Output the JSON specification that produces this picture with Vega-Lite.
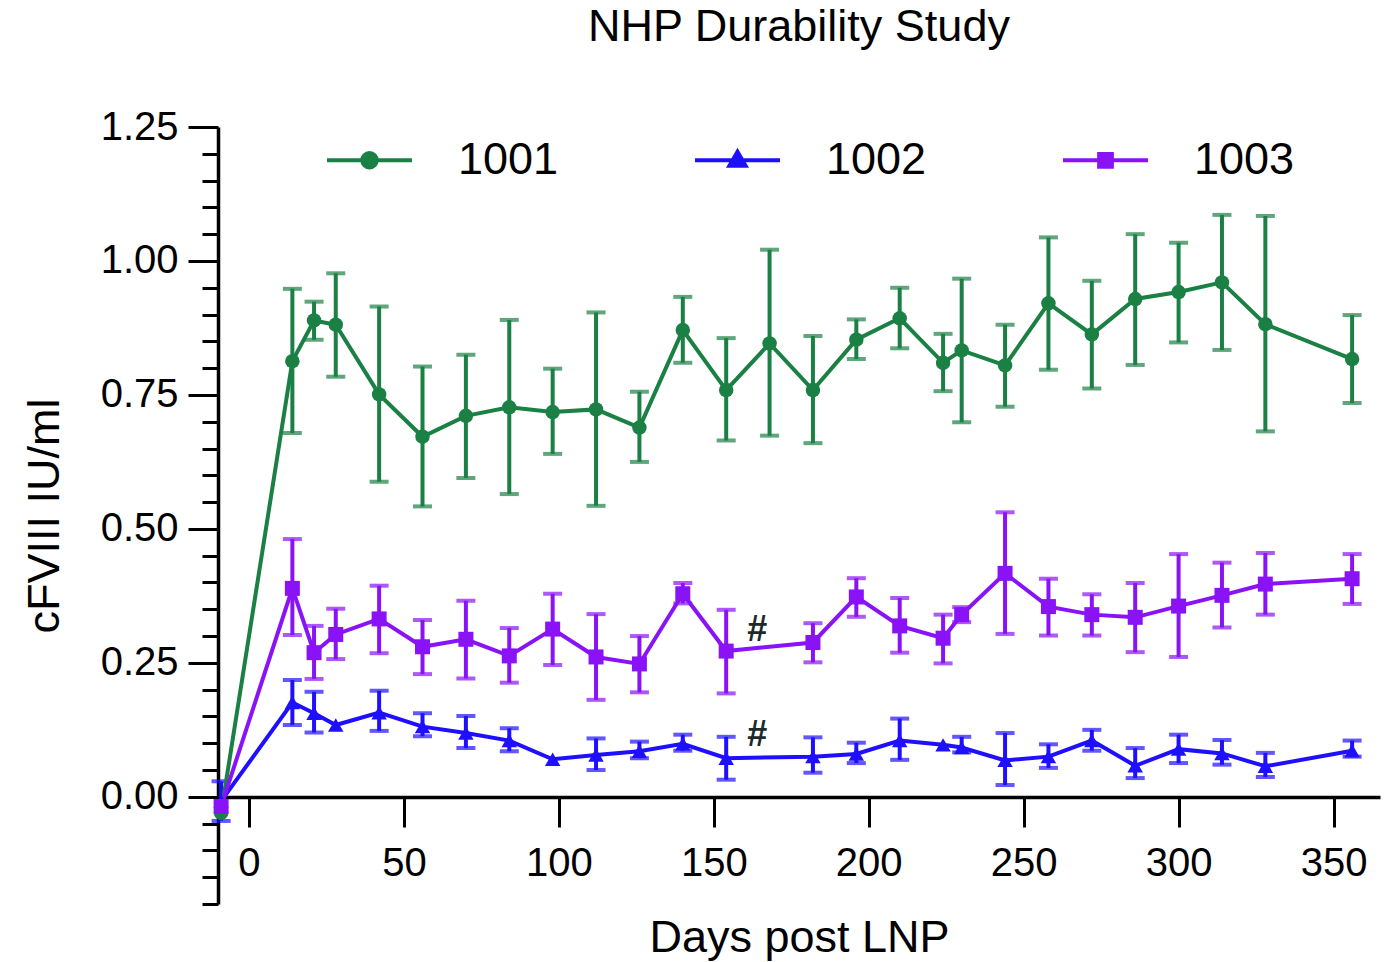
{
  "$schema": "https://vega.github.io/schema/vega-lite/v6.json",
  "width": 1162,
  "height": 777,
  "autosize": "none",
  "padding": {"left": 218, "top": 127, "right": 19, "bottom": 58},
  "background": "white",
  "config": {
    "view": {"stroke": null},
    "font": "Liberation Sans",
    "axis": {"grid": false, "domainColor": "black", "tickColor": "black", "labelColor": "black", "titleColor": "black", "titleFontWeight": "normal", "labelFont": "Liberation Sans", "titleFont": "Liberation Sans"}
  },
  "title": {"text": "NHP Durability Study", "fontSize": 45, "fontWeight": "normal", "color": "black", "anchor": "middle", "baseline": "alphabetic", "offset": 35, "dy": 14, "font": "Liberation Sans"},
  "data": {"values": [
    {"series": "1001", "day": -9, "value": -0.030, "lo": null, "hi": null},
    {"series": "1001", "day": 14, "value": 0.813, "lo": 0.679, "hi": 0.948},
    {"series": "1001", "day": 21, "value": 0.889, "lo": 0.853, "hi": 0.924},
    {"series": "1001", "day": 28, "value": 0.881, "lo": 0.784, "hi": 0.977},
    {"series": "1001", "day": 42, "value": 0.751, "lo": 0.588, "hi": 0.915},
    {"series": "1001", "day": 56, "value": 0.672, "lo": 0.542, "hi": 0.803},
    {"series": "1001", "day": 70, "value": 0.711, "lo": 0.595, "hi": 0.825},
    {"series": "1001", "day": 84, "value": 0.727, "lo": 0.565, "hi": 0.890},
    {"series": "1001", "day": 98, "value": 0.718, "lo": 0.640, "hi": 0.799},
    {"series": "1001", "day": 112, "value": 0.723, "lo": 0.543, "hi": 0.904},
    {"series": "1001", "day": 126, "value": 0.689, "lo": 0.625, "hi": 0.756},
    {"series": "1001", "day": 140, "value": 0.871, "lo": 0.810, "hi": 0.933},
    {"series": "1001", "day": 154, "value": 0.759, "lo": 0.665, "hi": 0.856},
    {"series": "1001", "day": 168, "value": 0.846, "lo": 0.674, "hi": 1.021},
    {"series": "1001", "day": 182, "value": 0.759, "lo": 0.660, "hi": 0.860},
    {"series": "1001", "day": 196, "value": 0.853, "lo": 0.817, "hi": 0.891},
    {"series": "1001", "day": 210, "value": 0.893, "lo": 0.837, "hi": 0.950},
    {"series": "1001", "day": 224, "value": 0.810, "lo": 0.757, "hi": 0.864},
    {"series": "1001", "day": 230, "value": 0.833, "lo": 0.699, "hi": 0.967},
    {"series": "1001", "day": 244, "value": 0.805, "lo": 0.728, "hi": 0.881},
    {"series": "1001", "day": 258, "value": 0.921, "lo": 0.797, "hi": 1.044},
    {"series": "1001", "day": 272, "value": 0.863, "lo": 0.762, "hi": 0.963},
    {"series": "1001", "day": 286, "value": 0.929, "lo": 0.806, "hi": 1.050},
    {"series": "1001", "day": 300, "value": 0.942, "lo": 0.848, "hi": 1.034},
    {"series": "1001", "day": 314, "value": 0.960, "lo": 0.834, "hi": 1.086},
    {"series": "1001", "day": 328, "value": 0.882, "lo": 0.682, "hi": 1.084},
    {"series": "1001", "day": 356, "value": 0.817, "lo": 0.735, "hi": 0.899},
    {"series": "1002", "day": -9, "value": -0.008, "lo": -0.045, "hi": 0.029},
    {"series": "1002", "day": 14, "value": 0.176, "lo": 0.134, "hi": 0.218},
    {"series": "1002", "day": 21, "value": 0.156, "lo": 0.120, "hi": 0.196},
    {"series": "1002", "day": 28, "value": 0.134, "lo": null, "hi": null},
    {"series": "1002", "day": 42, "value": 0.157, "lo": 0.123, "hi": 0.198},
    {"series": "1002", "day": 56, "value": 0.131, "lo": 0.113, "hi": 0.156},
    {"series": "1002", "day": 70, "value": 0.119, "lo": 0.091, "hi": 0.151},
    {"series": "1002", "day": 84, "value": 0.105, "lo": 0.085, "hi": 0.128},
    {"series": "1002", "day": 98, "value": 0.070, "lo": null, "hi": null},
    {"series": "1002", "day": 112, "value": 0.078, "lo": 0.050, "hi": 0.109},
    {"series": "1002", "day": 126, "value": 0.085, "lo": 0.072, "hi": 0.103},
    {"series": "1002", "day": 140, "value": 0.099, "lo": 0.086, "hi": 0.116},
    {"series": "1002", "day": 154, "value": 0.072, "lo": 0.032, "hi": 0.112},
    {"series": "1002", "day": 182, "value": 0.075, "lo": 0.045, "hi": 0.111},
    {"series": "1002", "day": 196, "value": 0.080, "lo": 0.063, "hi": 0.101},
    {"series": "1002", "day": 210, "value": 0.105, "lo": 0.069, "hi": 0.146},
    {"series": "1002", "day": 224, "value": 0.097, "lo": null, "hi": null},
    {"series": "1002", "day": 230, "value": 0.092, "lo": 0.083, "hi": 0.112},
    {"series": "1002", "day": 244, "value": 0.068, "lo": 0.022, "hi": 0.119},
    {"series": "1002", "day": 258, "value": 0.075, "lo": 0.054, "hi": 0.098},
    {"series": "1002", "day": 272, "value": 0.105, "lo": 0.086, "hi": 0.125},
    {"series": "1002", "day": 286, "value": 0.058, "lo": 0.035, "hi": 0.091},
    {"series": "1002", "day": 300, "value": 0.089, "lo": 0.063, "hi": 0.116},
    {"series": "1002", "day": 314, "value": 0.081, "lo": 0.060, "hi": 0.106},
    {"series": "1002", "day": 328, "value": 0.057, "lo": 0.037, "hi": 0.082},
    {"series": "1002", "day": 356, "value": 0.086, "lo": 0.075, "hi": 0.105},
    {"series": "1003", "day": -9, "value": -0.018, "lo": null, "hi": null},
    {"series": "1003", "day": 14, "value": 0.389, "lo": 0.302, "hi": 0.481},
    {"series": "1003", "day": 21, "value": 0.269, "lo": 0.220, "hi": 0.319},
    {"series": "1003", "day": 28, "value": 0.303, "lo": 0.257, "hi": 0.351},
    {"series": "1003", "day": 42, "value": 0.332, "lo": 0.268, "hi": 0.394},
    {"series": "1003", "day": 56, "value": 0.280, "lo": 0.229, "hi": 0.330},
    {"series": "1003", "day": 70, "value": 0.294, "lo": 0.221, "hi": 0.366},
    {"series": "1003", "day": 84, "value": 0.263, "lo": 0.213, "hi": 0.315},
    {"series": "1003", "day": 98, "value": 0.313, "lo": 0.246, "hi": 0.379},
    {"series": "1003", "day": 112, "value": 0.261, "lo": 0.181, "hi": 0.341},
    {"series": "1003", "day": 126, "value": 0.248, "lo": 0.195, "hi": 0.300},
    {"series": "1003", "day": 140, "value": 0.379, "lo": 0.361, "hi": 0.399},
    {"series": "1003", "day": 154, "value": 0.272, "lo": 0.193, "hi": 0.349},
    {"series": "1003", "day": 182, "value": 0.288, "lo": 0.251, "hi": 0.324},
    {"series": "1003", "day": 196, "value": 0.373, "lo": 0.336, "hi": 0.408},
    {"series": "1003", "day": 210, "value": 0.319, "lo": 0.269, "hi": 0.371},
    {"series": "1003", "day": 224, "value": 0.296, "lo": 0.249, "hi": 0.340},
    {"series": "1003", "day": 230, "value": 0.340, "lo": 0.326, "hi": 0.354},
    {"series": "1003", "day": 244, "value": 0.417, "lo": 0.304, "hi": 0.531},
    {"series": "1003", "day": 258, "value": 0.355, "lo": 0.301, "hi": 0.407},
    {"series": "1003", "day": 272, "value": 0.340, "lo": 0.301, "hi": 0.378},
    {"series": "1003", "day": 286, "value": 0.335, "lo": 0.270, "hi": 0.399},
    {"series": "1003", "day": 300, "value": 0.356, "lo": 0.261, "hi": 0.453},
    {"series": "1003", "day": 314, "value": 0.376, "lo": 0.316, "hi": 0.437},
    {"series": "1003", "day": 328, "value": 0.397, "lo": 0.340, "hi": 0.455},
    {"series": "1003", "day": 356, "value": 0.407, "lo": 0.360, "hi": 0.453}
  ]},
  "encoding": {
    "x": {
      "field": "day", "type": "quantitative",
      "scale": {"domain": [-10, 365], "nice": false, "zero": false},
      "axis": {
        "values": [0, 50, 100, 150, 200, 250, 300, 350],
        "title": "Days post LNP", "titleFontSize": 45, "titlePadding": 32,
        "offset": -107, "tickSize": 30, "tickWidth": 3, "domainWidth": 3.5,
        "labelFontSize": 40, "labelPadding": 16, "labelFlush": false, "labelOverlap": false
      }
    },
    "y": {
      "field": "value", "type": "quantitative",
      "scale": {"domain": [-0.2, 1.25], "nice": false, "zero": false},
      "axis": {
        "values": [-0.2, -0.15, -0.1, -0.05, 0, 0.05, 0.1, 0.15, 0.2, 0.25, 0.3, 0.35, 0.4, 0.45, 0.5, 0.55, 0.6, 0.65, 0.7, 0.75, 0.8, 0.85, 0.9, 0.95, 1, 1.05, 1.1, 1.15, 1.2, 1.25],
        "title": "cFVIII IU/ml", "titleFontSize": 45, "titlePadding": 33,
        "labelFontSize": 40, "labelPadding": 10, "labelOverlap": false, "labelBound": false,
        "labelExpr": "datum.value > -0.001 && abs(datum.value * 4 - round(datum.value * 4)) < 0.001 ? format(datum.value, '.2f') : ''",
        "tickSize": {"condition": {"test": "datum.value > -0.001 && abs(datum.value * 4 - round(datum.value * 4)) < 0.001", "value": 30}, "value": 16},
        "tickWidth": 3, "domainWidth": 3.5
      }
    },
    "color": {
      "field": "series", "type": "nominal",
      "scale": {"domain": ["1001", "1002", "1003"], "range": ["#1b8044", "#1f0fff", "#8a12f7"]},
      "legend": {
        "orient": "none", "legendX": 107, "legendY": -11.5, "direction": "horizontal", "title": null,
        "labelFontSize": 45, "labelFont": "Liberation Sans", "labelColor": "black", "labelLimit": 0,
        "symbolSize": 7225, "symbolStrokeWidth": 4, "labelOffset": 44, "columnPadding": 128, "padding": 0,
        "encode": {"symbols": {"update": {
          "shape": {"signal": "datum.value === '1001' ? 'M-1,0L1,0M-0.17,0A0.17,0.17 0 1,0 0.17,0A0.17,0.17 0 1,0 -0.17,0Z' : datum.value === '1002' ? 'M-1,0L1,0M0,-0.2L0.19,0.13L-0.19,0.13Z' : 'M-1,0L1,0M-0.15,-0.15L0.15,-0.15L0.15,0.15L-0.15,0.15Z'"},
          "stroke": {"scale": "color", "field": "value"},
          "fill": {"scale": "color", "field": "value"},
          "opacity": {"value": 1}
        }}}
      }
    }
  },
  "layer": [
    {
      "mark": {"type": "errorbar", "thickness": 4, "rule": {"strokeWidth": 4}, "ticks": {"size": 19, "thickness": 4}},
      "encoding": {
        "y": {
          "field": "lo", "type": "quantitative",
          "scale": {"domain": [-0.2, 1.25], "nice": false, "zero": false},
          "axis": {
            "values": [-0.2, -0.15, -0.1, -0.05, 0, 0.05, 0.1, 0.15, 0.2, 0.25, 0.3, 0.35, 0.4, 0.45, 0.5, 0.55, 0.6, 0.65, 0.7, 0.75, 0.8, 0.85, 0.9, 0.95, 1, 1.05, 1.1, 1.15, 1.2, 1.25],
            "title": "cFVIII IU/ml", "titleFontSize": 45, "titlePadding": 33,
            "labelFontSize": 40, "labelPadding": 10, "labelOverlap": false, "labelBound": false,
            "labelExpr": "datum.value > -0.001 && abs(datum.value * 4 - round(datum.value * 4)) < 0.001 ? format(datum.value, '.2f') : ''",
            "tickSize": {"condition": {"test": "datum.value > -0.001 && abs(datum.value * 4 - round(datum.value * 4)) < 0.001", "value": 30}, "value": 16},
            "tickWidth": 3, "domainWidth": 3.5
          }
        },
        "y2": {"field": "hi"}
      }
    },
    {
      "mark": {"type": "line", "strokeWidth": 4},
      "encoding": {}
    },
    {
      "transform": [{"filter": "datum.series === '1001'"}],
      "mark": {"type": "point", "filled": true, "opacity": 1, "size": 210, "shape": "circle"},
      "encoding": {}
    },
    {
      "transform": [{"filter": "datum.series === '1002'"}],
      "mark": {"type": "point", "filled": true, "opacity": 1, "size": 240, "shape": "triangle-up"},
      "encoding": {}
    },
    {
      "transform": [{"filter": "datum.series === '1003'"}],
      "mark": {"type": "point", "filled": true, "opacity": 1, "size": 225, "shape": "square"},
      "encoding": {}
    },
    {
      "data": {"values": [{"day": 164, "value": 0.312, "label": "#"}, {"day": 164, "value": 0.116, "label": "#"}]},
      "mark": {"type": "text", "fontSize": 36, "fontWeight": "bold", "align": "center", "baseline": "middle", "font": "Liberation Sans"},
      "encoding": {
        "text": {"field": "label"},
        "color": {"value": "#1c2a2a"}
      }
    }
  ]
}
